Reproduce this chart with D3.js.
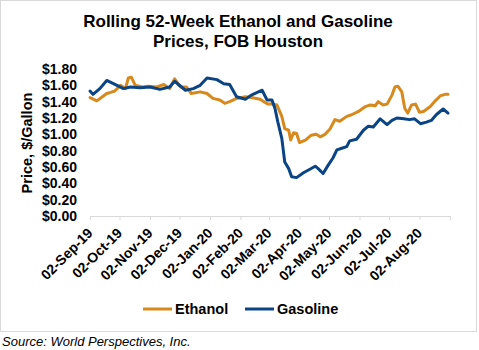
<!DOCTYPE html>
<html>
<head>
<meta charset="utf-8">
<script src="https://cdn.jsdelivr.net/npm/d3@7"></script>
<style>
  html, body { margin: 0; padding: 0; background: #fff; }
  svg { display: block; font-family: "Liberation Sans", Arial, sans-serif; }
</style>
</head>
<body>
<svg id="chart" width="479" height="350"></svg>
<script>
// Ethanol price series (USD per gallon), FOB Houston
const ethanolDates = [
  "2019-09-02","2019-09-09","2019-09-19","2019-09-22","2019-09-27","2019-10-03","2019-10-08",
  "2019-10-11","2019-10-14","2019-10-18","2019-10-25","2019-10-31","2019-11-09","2019-11-16",
  "2019-11-22","2019-11-27","2019-12-03","2019-12-09","2019-12-14","2019-12-23","2019-12-30",
  "2020-01-05","2020-01-12","2020-01-17","2020-01-22","2020-01-29","2020-02-07","2020-02-13",
  "2020-02-22","2020-02-27","2020-03-01","2020-03-05","2020-03-10","2020-03-15","2020-03-18",
  "2020-03-22","2020-03-24","2020-03-27","2020-03-30","2020-04-02","2020-04-08","2020-04-14",
  "2020-04-19","2020-04-23","2020-04-28","2020-05-03","2020-05-08","2020-05-13","2020-05-20",
  "2020-05-25","2020-06-01","2020-06-08","2020-06-13","2020-06-18","2020-06-21","2020-06-26",
  "2020-06-30","2020-07-05","2020-07-08","2020-07-11","2020-07-15","2020-07-18","2020-07-21",
  "2020-07-25","2020-07-29","2020-08-02","2020-08-06","2020-08-13","2020-08-18","2020-08-23",
  "2020-08-28","2020-08-31"
];
const ethanolValues = [
  1.45,1.41,1.50,1.51,1.53,1.60,1.56,
  1.69,1.70,1.60,1.58,1.59,1.58,1.61,
  1.56,1.68,1.58,1.58,1.50,1.52,1.50,
  1.44,1.42,1.38,1.40,1.44,1.46,1.45,
  1.43,1.39,1.37,1.37,1.36,1.22,1.07,
  1.05,0.93,1.02,1.01,0.90,0.93,0.99,
  1.00,0.97,1.00,1.065,1.18,1.16,1.22,
  1.24,1.28,1.34,1.36,1.35,1.40,1.36,
  1.37,1.48,1.58,1.59,1.52,1.32,1.26,
  1.36,1.37,1.27,1.28,1.34,1.41,1.47,
  1.49,1.49
];

// Gasoline price series (USD per gallon), FOB Houston
const gasolineDates = [
  "2019-09-02","2019-09-05","2019-09-12","2019-09-19","2019-10-01","2019-10-06","2019-10-13",
  "2019-10-23","2019-11-02","2019-11-12","2019-11-22","2019-11-27","2019-12-08","2019-12-16",
  "2019-12-23","2019-12-30","2020-01-09","2020-01-16","2020-01-22","2020-01-29","2020-02-07",
  "2020-02-13","2020-02-24","2020-02-29","2020-03-05","2020-03-08","2020-03-11","2020-03-15",
  "2020-03-18","2020-03-22","2020-03-25","2020-03-30","2020-04-06","2020-04-13","2020-04-18",
  "2020-04-21","2020-04-26","2020-05-01","2020-05-06","2020-05-10","2020-05-15","2020-05-20",
  "2020-05-23","2020-05-30","2020-06-06","2020-06-11","2020-06-16","2020-06-23","2020-06-30",
  "2020-07-05","2020-07-10","2020-07-17","2020-07-23","2020-07-28","2020-08-03","2020-08-09",
  "2020-08-14","2020-08-19","2020-08-26","2020-08-31"
];
const gasolineValues = [
  1.53,1.49,1.56,1.66,1.59,1.56,1.58,
  1.57,1.58,1.55,1.58,1.65,1.54,1.56,
  1.60,1.69,1.67,1.62,1.61,1.46,1.43,
  1.48,1.54,1.42,1.42,1.32,1.15,0.95,
  0.66,0.58,0.48,0.47,0.53,0.575,0.61,
  0.58,0.52,0.62,0.71,0.81,0.83,0.85,
  0.92,0.94,1.05,1.10,1.09,1.19,1.12,
  1.17,1.20,1.19,1.18,1.19,1.13,1.15,
  1.17,1.24,1.31,1.26
];

// Month ticks on the date axis (the last one carries no label)
const tickDates = [
  "2019-09-02","2019-10-02","2019-11-02","2019-12-02","2020-01-02","2020-02-02",
  "2020-03-02","2020-04-02","2020-05-02","2020-06-02","2020-07-02","2020-08-02","2020-09-02"
];
const yTicks = [0, 0.2, 0.4, 0.6, 0.8, 1.0, 1.2, 1.4, 1.6, 1.8];

const seriesNames = ["Ethanol", "Gasoline"];
const seriesColors = ["#D8891C", "#0B4485"];

const parse = d3.utcParse("%Y-%m-%d");
const fmt = d3.utcFormat("%d-%b-%y");

const series = [
  { name: seriesNames[0], color: seriesColors[0],
    points: ethanolDates.map((d, i) => ({ date: parse(d), value: ethanolValues[i] })) },
  { name: seriesNames[1], color: seriesColors[1],
    points: gasolineDates.map((d, i) => ({ date: parse(d), value: gasolineValues[i] })) }
];

const svg = d3.select("#chart");

// outer frame
svg.append("rect")
  .attr("x", 0.5).attr("y", 0.5)
  .attr("width", 476).attr("height", 331)
  .attr("fill", "#fff").attr("stroke", "#D9D9D9");

// title
const title = svg.append("text")
  .attr("text-anchor", "middle")
  .attr("font-size", 17).attr("font-weight", "bold").attr("fill", "#000");
title.append("tspan").attr("x", 238).attr("y", 27).text("Rolling 52-Week Ethanol and Gasoline");
title.append("tspan").attr("x", 238).attr("y", 47).text("Prices, FOB Houston");

const x = d3.scaleUtc()
  .domain([parse(tickDates[0]), parse(tickDates[tickDates.length - 1])])
  .range([90, 450]);
const y = d3.scaleLinear().domain([0, 1.8]).range([216, 69]);

// y-axis labels only (no axis line)
const yAxis = d3.axisLeft(y)
  .tickValues(yTicks)
  .tickFormat(d => "$" + d3.format(".2f")(d))
  .tickSize(0).tickPadding(0);
const gy = svg.append("g").attr("transform", "translate(77,0)").call(yAxis);
gy.select(".domain").remove();
gy.selectAll("text")
  .attr("font-size", 14).attr("font-weight", "bold").attr("fill", "#000")
  .attr("font-family", "Liberation Sans, Arial, sans-serif");

// x axis
const xAxis = d3.axisBottom(x)
  .tickValues(tickDates.map(parse))
  .tickFormat((d, i) => i < tickDates.length - 1 ? fmt(d) : "")
  .tickSizeOuter(0).tickSizeInner(4);
const gx = svg.append("g").attr("transform", "translate(0,216)").call(xAxis);
gx.select(".domain").attr("stroke", "#D9D9D9");
gx.selectAll(".tick line").attr("stroke", "#D9D9D9");
gx.selectAll(".tick text")
  .attr("font-size", 14).attr("font-weight", "bold").attr("fill", "#000")
  .attr("font-family", "Liberation Sans, Arial, sans-serif")
  .attr("text-anchor", "end")
  .attr("y", 0).attr("dy", 0)
  .attr("transform", "translate(3,18) rotate(-45)");

// y-axis title
svg.append("text")
  .attr("transform", "translate(32,143) rotate(-90)")
  .attr("text-anchor", "middle")
  .attr("font-size", 14.5).attr("font-weight", "bold").attr("fill", "#000")
  .text("Price, $/Gallon");

// series lines
const line = d3.line().x(d => x(d.date)).y(d => y(d.value));
svg.append("g").selectAll("path")
  .data(series)
  .join("path")
  .attr("d", d => line(d.points))
  .attr("fill", "none")
  .attr("stroke", d => d.color)
  .attr("stroke-width", 3)
  .attr("stroke-linejoin", "round")
  .attr("stroke-linecap", "round");

// legend
const legendX = [143, 245];
const lg = svg.append("g").selectAll("g")
  .data(series)
  .join("g")
  .attr("transform", (d, i) => `translate(${legendX[i]},309)`);
lg.append("line")
  .attr("x1", 0).attr("x2", 29).attr("y1", 0).attr("y2", 0)
  .attr("stroke", d => d.color).attr("stroke-width", 3);
lg.append("text")
  .attr("x", 32).attr("y", 5)
  .attr("font-size", 14.5).attr("font-weight", "bold").attr("fill", "#000")
  .text(d => d.name);

// source note
svg.append("text")
  .attr("x", 2).attr("y", 346)
  .attr("font-size", 13).attr("font-style", "italic").attr("fill", "#000")
  .text("Source: World Perspectives, Inc.");
</script>
</body>
</html>
